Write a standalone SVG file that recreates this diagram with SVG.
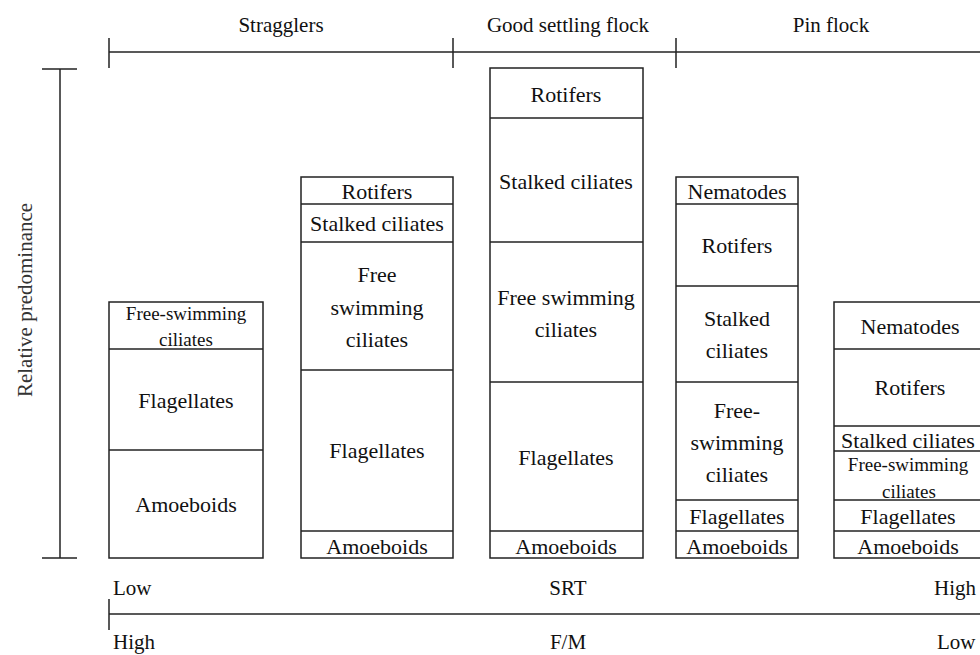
<svg xmlns="http://www.w3.org/2000/svg" width="980" height="655" viewBox="0 0 980 655" font-family="Liberation Serif, Times New Roman, DejaVu Serif, serif">
<style>
text{fill:#111;text-anchor:middle;dominant-baseline:central}
.t{font-size:22px}
.s{font-size:19px}
.a{font-size:21px}
.box{fill:#fff;stroke:#222;stroke-width:1.5}
.ln{stroke:#222;stroke-width:1.5;fill:none}
</style>
<rect width="980" height="655" fill="#fff"/>
<g id="axes">
<line class="ln" x1="109" y1="52" x2="980" y2="52"/>
<line class="ln" x1="109" y1="38" x2="109" y2="68"/>
<line class="ln" x1="453" y1="38" x2="453" y2="68"/>
<line class="ln" x1="676" y1="38" x2="676" y2="68"/>
<text class="a" x="281" y="25">Stragglers</text>
<text class="a" x="568" y="25">Good settling flock</text>
<text class="a" x="831" y="25">Pin flock</text>
<line class="ln" x1="60" y1="69" x2="60" y2="558"/>
<line class="ln" x1="42" y1="69" x2="77" y2="69"/>
<line class="ln" x1="42" y1="558" x2="77" y2="558"/>
<text class="a" x="25" y="300" transform="rotate(-90 25 300)" style="fill:#333">Relative predominance</text>
<line class="ln" x1="109" y1="614" x2="980" y2="614"/>
<line class="ln" x1="109" y1="599" x2="109" y2="630"/>
<text class="a" x="113" y="588" style="text-anchor:start">Low</text>
<text class="a" x="568" y="588">SRT</text>
<text class="a" x="934" y="588" style="text-anchor:start">High</text>
<text class="a" x="113" y="642" style="text-anchor:start">High</text>
<text class="a" x="568" y="642">F/M</text>
<text class="a" x="937" y="642" style="text-anchor:start">Low</text>
</g>
<g id="col1">
<rect class="box" x="109" y="302" width="154" height="256"/>
<line class="ln" x1="109" y1="349" x2="263" y2="349"/>
<line class="ln" x1="109" y1="450" x2="263" y2="450"/>
<text class="s" x="186" y="313">Free-swimming</text>
<text class="s" x="186" y="339">ciliates</text>
<text class="t" x="186" y="400">Flagellates</text>
<text class="t" x="186" y="504">Amoeboids</text>
</g>
<g id="col2">
<rect class="box" x="301" y="177" width="152" height="381"/>
<line class="ln" x1="301" y1="204" x2="453" y2="204"/>
<line class="ln" x1="301" y1="242" x2="453" y2="242"/>
<line class="ln" x1="301" y1="370" x2="453" y2="370"/>
<line class="ln" x1="301" y1="531" x2="453" y2="531"/>
<text class="t" x="377" y="191">Rotifers</text>
<text class="t" x="377" y="223">Stalked ciliates</text>
<text class="t" x="377" y="274">Free</text>
<text class="t" x="377" y="307">swimming</text>
<text class="t" x="377" y="339">ciliates</text>
<text class="t" x="377" y="450">Flagellates</text>
<text class="t" x="377" y="546">Amoeboids</text>
</g>
<g id="col3">
<rect class="box" x="490" y="68" width="153" height="490"/>
<line class="ln" x1="490" y1="118" x2="643" y2="118"/>
<line class="ln" x1="490" y1="242" x2="643" y2="242"/>
<line class="ln" x1="490" y1="382" x2="643" y2="382"/>
<line class="ln" x1="490" y1="531" x2="643" y2="531"/>
<text class="t" x="566" y="94">Rotifers</text>
<text class="t" x="566" y="181">Stalked ciliates</text>
<text class="t" x="566" y="297">Free swimming</text>
<text class="t" x="566" y="329">ciliates</text>
<text class="t" x="566" y="457">Flagellates</text>
<text class="t" x="566" y="546">Amoeboids</text>
</g>
<g id="col4">
<rect class="box" x="676" y="177" width="122" height="381"/>
<line class="ln" x1="676" y1="204" x2="798" y2="204"/>
<line class="ln" x1="676" y1="286" x2="798" y2="286"/>
<line class="ln" x1="676" y1="382" x2="798" y2="382"/>
<line class="ln" x1="676" y1="500" x2="798" y2="500"/>
<line class="ln" x1="676" y1="531" x2="798" y2="531"/>
<text class="t" x="737" y="191">Nematodes</text>
<text class="t" x="737" y="245">Rotifers</text>
<text class="t" x="737" y="318">Stalked</text>
<text class="t" x="737" y="350">ciliates</text>
<text class="t" x="737" y="410">Free-</text>
<text class="t" x="737" y="442">swimming</text>
<text class="t" x="737" y="474">ciliates</text>
<text class="t" x="737" y="516">Flagellates</text>
<text class="t" x="737" y="546">Amoeboids</text>
</g>
<g id="col5">
<rect class="box" x="834" y="302" width="154" height="256"/>
<line class="ln" x1="834" y1="349" x2="988" y2="349"/>
<line class="ln" x1="834" y1="426" x2="988" y2="426"/>
<line class="ln" x1="834" y1="451" x2="988" y2="451"/>
<line class="ln" x1="834" y1="500" x2="988" y2="500"/>
<line class="ln" x1="834" y1="531" x2="988" y2="531"/>
<text class="t" x="910" y="326">Nematodes</text>
<text class="t" x="910" y="387">Rotifers</text>
<text class="t" x="908" y="440">Stalked ciliates</text>
<text class="s" x="908" y="464">Free-swimming</text>
<text class="s" x="909" y="491">ciliates</text>
<text class="t" x="908" y="516">Flagellates</text>
<text class="t" x="908" y="546">Amoeboids</text>
</g>
<g id="connectors"></g>
</svg>
